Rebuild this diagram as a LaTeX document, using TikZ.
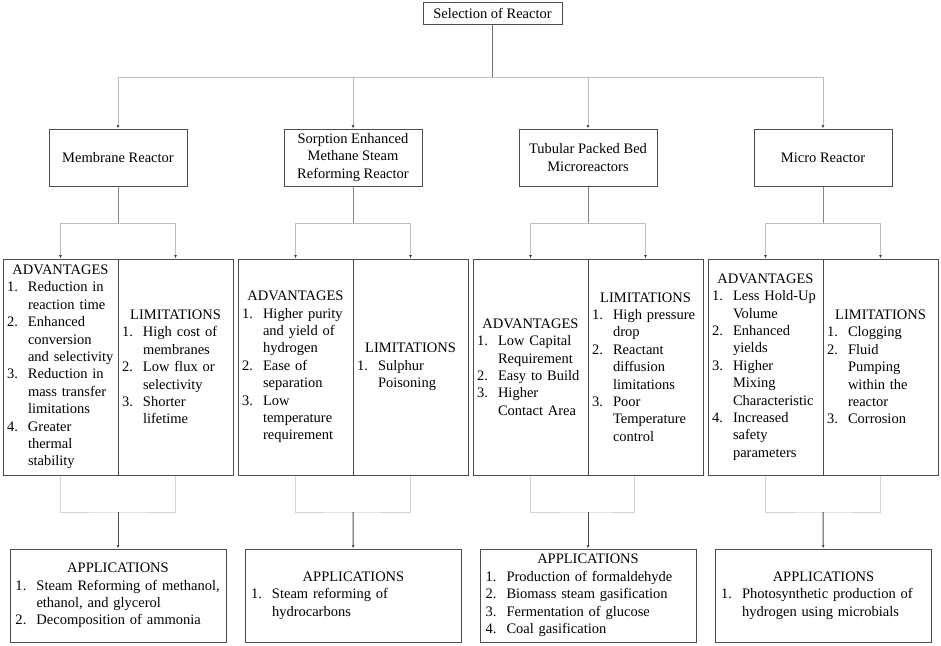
\documentclass[tikz,border=0pt]{standalone}
\usepackage{fontspec}
\setmainfont{Liberation Serif}
\usepackage{xcolor}
\usepackage{tikz}
\usetikzlibrary{calc}
\usetikzlibrary{arrows.meta}
\usetikzlibrary{positioning}
\tikzset{>=latex}
\setlength{\parindent}{0pt}
\definecolor{boxline}{HTML}{4D4D4D}
\definecolor{stemgray}{HTML}{707070}
\definecolor{midgray}{HTML}{858585}
\definecolor{branchgray}{HTML}{BEBEBE}
\definecolor{faintgray}{HTML}{D4D4D4}
\definecolor{darkgray}{HTML}{505050}
\newcommand{\fs}{\fontsize{14.5}{17.4}\selectfont}
\newcommand{\heading}[1]{{\centering #1\par}}
\newcommand{\litem}[2]{\hangindent=21pt\hangafter=1\noindent\makebox[21pt][l]{#1}#2\par}
\tikzstyle{box} = [rectangle, draw=boxline, line width=1pt, inner sep=0pt]
\tikzstyle{reactor} = [box, minimum width=138pt, minimum height=57pt, align=center]
\tikzstyle{half} = [box, minimum height=216pt, text width=107pt, inner xsep=4pt, align=left]
\tikzstyle{appbox} = [box, minimum height=93pt, text width=205pt, inner xsep=5.5pt, align=left]
\tikzstyle{tip} = [-{Latex[length=3.5pt, width=3pt, color=boxline]}]
\tikzstyle{stem} = [draw=stemgray, line width=1pt]
\tikzstyle{mid} = [draw=midgray, line width=1pt]
\tikzstyle{branch} = [draw=branchgray, line width=1pt]
\tikzstyle{faint} = [draw=faintgray, line width=1pt]
\tikzstyle{lower} = [draw=darkgray, line width=1pt]

\begin{document}
\begin{tikzpicture}[x=1pt, y=-1pt, font=\fs]
\useasboundingbox (0,0) rectangle (941,645);

\node [box, minimum width=139pt, minimum height=22pt] (sel) at (492.5,13) {Selection of Reactor};

\node [reactor] (mem) at (118,157.5) {Membrane Reactor};
\node [reactor] (sme) at (353,157.5) {Sorption Enhanced\\Methane Steam\\Reforming Reactor};
\node [reactor] (tpb) at (588,157.5) {Tubular Packed Bed\\Microreactors};
\node [reactor] (mic) at (823,157.5) {Micro Reactor};

\node [half] (adv1) at (60.5,367) {\heading{ADVANTAGES}
\litem{1.}{Reduction in\newline reaction time}
\litem{2.}{Enhanced\newline conversion\newline and selectivity}
\litem{3.}{Reduction in\newline mass transfer\newline limitations}
\litem{4.}{Greater\newline thermal\newline stability}};
\node [half] (lim1) at (175.5,367) {\heading{LIMITATIONS}
\litem{1.}{High cost of\newline membranes}
\litem{2.}{Low flux or\newline selectivity}
\litem{3.}{Shorter\newline lifetime}};

\node [half] (adv2) at (295.5,367) {\heading{ADVANTAGES}
\litem{1.}{Higher purity\newline and yield of\newline hydrogen}
\litem{2.}{Ease of\newline separation}
\litem{3.}{Low\newline temperature\newline requirement}};
\node [half] (lim2) at (410.5,367) {\heading{LIMITATIONS}
\litem{1.}{Sulphur\newline Poisoning}};

\node [half] (adv3) at (530.5,367) {\heading{ADVANTAGES}
\litem{1.}{Low Capital\newline Requirement}
\litem{2.}{Easy to Build}
\litem{3.}{Higher\newline Contact Area}};
\node [half] (lim3) at (645.5,367) {\heading{LIMITATIONS}
\litem{1.}{High pressure\newline drop}
\litem{2.}{Reactant\newline diffusion\newline limitations}
\litem{3.}{Poor\newline Temperature\newline control}};

\node [half] (adv4) at (765.5,367) {\heading{ADVANTAGES}
\litem{1.}{Less Hold-Up\newline Volume}
\litem{2.}{Enhanced\newline yields}
\litem{3.}{Higher\newline Mixing\newline Characteristic}
\litem{4.}{Increased\newline safety\newline parameters}};
\node [half] (lim4) at (880.5,367) {\heading{LIMITATIONS}
\litem{1.}{Clogging}
\litem{2.}{Fluid\newline Pumping\newline within the\newline reactor}
\litem{3.}{Corrosion}};

\node [appbox] (app1) at (118,595.5) {\heading{APPLICATIONS}
\litem{1.}{\mbox{Steam Reforming of methanol,}\newline ethanol, and glycerol}
\litem{2.}{Decomposition of ammonia}};
\node [appbox] (app2) at (353.5,595.5) {\heading{APPLICATIONS}
\litem{1.}{Steam reforming of\newline hydrocarbons}};
\node [appbox] (app3) at (588,595.5) {\heading{APPLICATIONS}
\litem{1.}{Production of formaldehyde}
\litem{2.}{Biomass steam gasification}
\litem{3.}{Fermentation of glucose}
\litem{4.}{Coal gasification}};
\node [appbox] (app4) at (823.5,595.5) {\heading{APPLICATIONS}
\litem{1.}{\mbox{Photosynthetic production of}\newline hydrogen using microbials}};

\coordinate (J0) at (492.5,77);
\draw [stem] (sel) -- (J0);
\draw [branch] (mem |- J0) -- (mic |- J0);
\draw [branch, tip] (mem |- J0) -- (mem);
\draw [branch, tip] (sme |- J0) -- (sme);
\draw [branch, tip] (tpb |- J0) -- (tpb);
\draw [branch, tip] (mic |- J0) -- (mic);

\coordinate (J1) at (118,223);
\draw [mid] (mem) -- (J1);
\draw [branch] (adv1 |- J1) -- (lim1 |- J1);
\draw [branch, tip] (adv1 |- J1) -- (adv1);
\draw [branch, tip] (lim1 |- J1) -- (lim1);
\coordinate (K1) at (118,512);
\draw [faint] (adv1.south) |- (K1) -| (lim1.south);
\draw [lower, tip] (K1) -- (app1);

\coordinate (J2) at (353,223);
\draw [mid] (sme) -- (J2);
\draw [branch] (adv2 |- J2) -- (lim2 |- J2);
\draw [branch, tip] (adv2 |- J2) -- (adv2);
\draw [branch, tip] (lim2 |- J2) -- (lim2);
\coordinate (K2) at (353,512);
\draw [faint] (adv2.south) |- (K2) -| (lim2.south);
\draw [lower, tip] (K2) -- (app2);

\coordinate (J3) at (588,223);
\draw [mid] (tpb) -- (J3);
\draw [branch] (adv3 |- J3) -- (lim3 |- J3);
\draw [branch, tip] (adv3 |- J3) -- (adv3);
\draw [branch, tip] (lim3 |- J3) -- (lim3);
\coordinate (K3) at (588,512);
\draw [faint] (adv3.south) |- (K3) -| ([xshift=-11pt]lim3.south);
\draw [lower, tip] (K3) -- (app3);

\coordinate (J4) at (823,223);
\draw [mid] (mic) -- (J4);
\draw [branch] (adv4 |- J4) -- (lim4 |- J4);
\draw [branch, tip] (adv4 |- J4) -- (adv4);
\draw [branch, tip] (lim4 |- J4) -- (lim4);
\coordinate (K4) at (823,512);
\draw [faint] (adv4.south) |- (K4) -| (lim4.south);
\draw [lower, tip] (K4) -- (app4);
\end{tikzpicture}
\end{document}
